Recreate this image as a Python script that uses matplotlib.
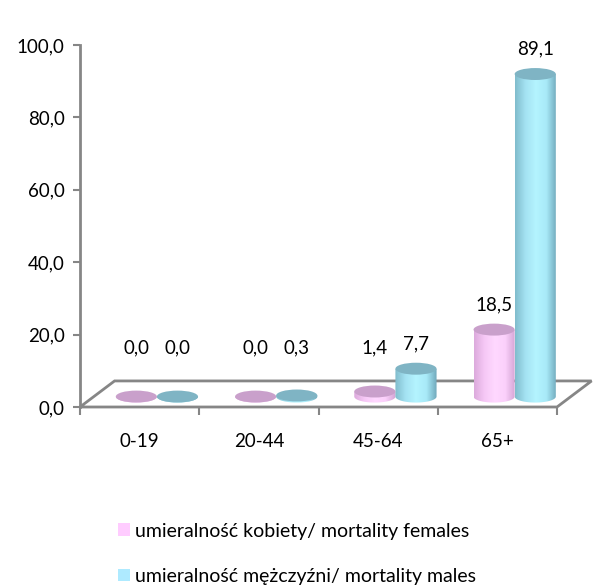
import numpy as np
import matplotlib.pyplot as plt
from matplotlib.patches import Ellipse, PathPatch, Patch, Polygon
from matplotlib.path import Path
from matplotlib.colors import LinearSegmentedColormap
from matplotlib.ticker import FuncFormatter

plt.rcParams['font.family'] = ['Lato', 'DejaVu Sans']

groups = ['0-19', '20-44', '45-64', '65+']
females = [0.0, 0.0, 1.4, 18.5]
males = [0.0, 0.3, 7.7, 89.1]
names = ['umieralność kobiety/ mortality females',
         'umieralność mężczyźni/ mortality males']

# style
grey = '#868686'
fs = 13.5
pink_map = LinearSegmentedColormap.from_list(
  'pk', ['#dcaadc', '#f6c8f6', '#ffd8ff', '#fbd0fb', '#d2a2d2'])
blue_map = LinearSegmentedColormap.from_list(
  'bl', ['#80bccc', '#a4e2f2', '#b4f4ff', '#a8eaf8', '#70a8bb'])
tops = ['#c9a0cb', '#7fb4c4']
legend_cols = ['#ffccff', '#aeeaff']

depth_x = 0.29   # floor depth in category units
depth_y = 7.2    # floor depth in value units
w = 0.345        # cylinder width
eh = 3.3         # ellipse height in value units
base = depth_y * 0.4


def cylinder(ax, xc, v, cmap, top_color):
  x0, x1 = xc - w/2, xc + w/2
  t = np.linspace(np.pi, 2*np.pi, 50)
  verts = list(zip(xc + w/2*np.cos(t), base + eh/2*np.sin(t)))
  verts += [(x1, base+v), (x0, base+v), (x0, base)]
  codes = [Path.MOVETO] + [Path.LINETO]*(len(verts)-2) + [Path.CLOSEPOLY]
  clip = PathPatch(Path(verts, codes), facecolor='none', edgecolor='none')
  ax.add_patch(clip)
  grad = np.linspace(0, 1, 200).reshape(1, -1)
  im = ax.imshow(grad, cmap=cmap, extent=(x0, x1, base-eh/2, base+v),
                 aspect='auto', origin='lower', zorder=3, interpolation='bilinear')
  im.set_clip_path(clip)
  ax.add_patch(Ellipse((xc, base+v), w, eh, facecolor=top_color,
                       edgecolor='none', zorder=4))


fig = plt.figure(figsize=(5.93, 5.87), dpi=100)
ax = fig.add_axes([80/593, (587-407)/587, (557-80)/593, 362/587])

# floor
floor = Polygon([(0, 0), (4, 0), (4+depth_x, depth_y), (depth_x, depth_y)],
                closed=True, facecolor='white', edgecolor=grey, lw=2,
                clip_on=False, zorder=1)
ax.add_patch(floor)

n = len(groups)
for i in range(n):
  xc = i + 0.5 + depth_x/2
  for s, vals in enumerate([females, males]):
    cx = xc + (s - 0.5)*w
    cylinder(ax, cx, vals[i], [pink_map, blue_map][s], tops[s])
    ly = max(base + vals[i], 9.5) + 4.5
    ax.text(cx, ly, '{0:.1f}'.format(vals[i]).replace('.', ','),
            ha='center', va='bottom', fontsize=fs, color='black', zorder=5)

ax.set_xlim(0, 4)
ax.set_ylim(0, 100)

for k in ['top', 'right', 'bottom']:
  ax.spines[k].set_visible(False)
ax.spines['left'].set_color(grey)
ax.spines['left'].set_linewidth(2)

ax.set_yticks(np.arange(0, 101, 20))
ax.yaxis.set_major_formatter(FuncFormatter(lambda v, p: '{0:.1f}'.format(v).replace('.', ',')))
ax.tick_params(axis='y', color=grey, width=1.5, length=5, labelsize=fs, pad=6)

ax.set_xticks(np.arange(0, n+1))
ax.set_xticklabels([])
ax.set_xticks(np.arange(n) + 0.5, minor=True)
ax.set_xticklabels(groups, minor=True)
ax.tick_params(axis='x', which='major', color=grey, width=1.5, length=6)
ax.tick_params(axis='x', which='minor', length=0, labelsize=fs, pad=19)

handles = [Patch(facecolor=c, edgecolor='none') for c in legend_cols]
fig.legend(handles, names, loc='upper left', bbox_to_anchor=(100/593, 1-505/587),
           frameon=False, fontsize=14, handlelength=0.62, handleheight=0.62,
           handletextpad=0.3, labelspacing=1.45)

fig.savefig('out.png', dpi=100)
